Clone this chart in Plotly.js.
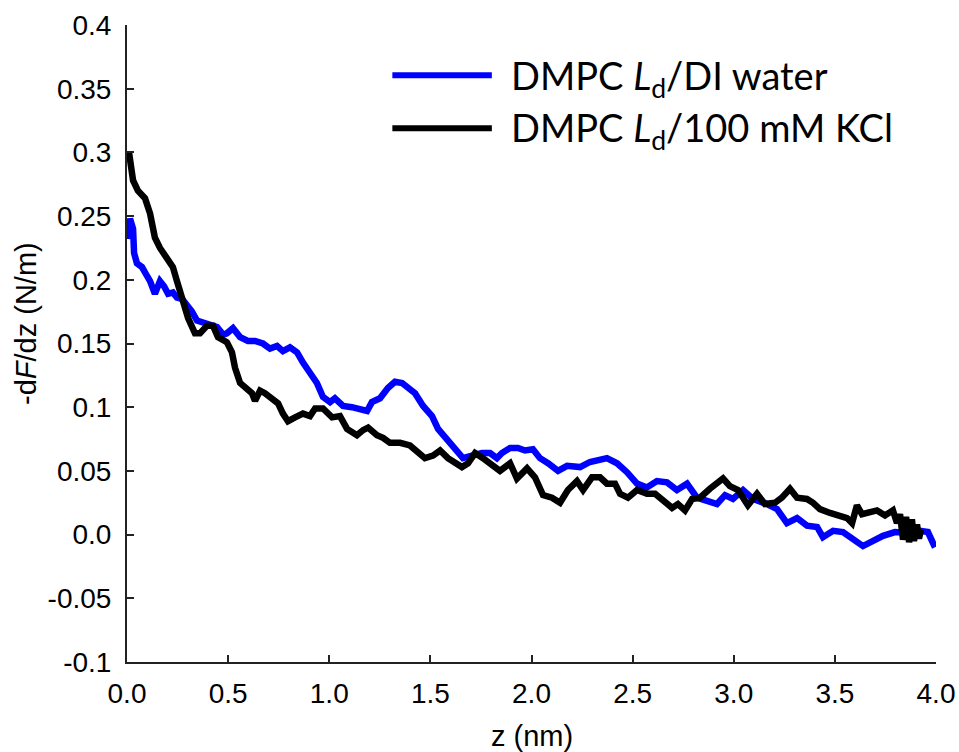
<!DOCTYPE html>
<html>
<head>
<meta charset="utf-8">
<script src="https://cdn.plot.ly/plotly-3.0.1.min.js"></script>
<style>
  html, body { margin: 0; padding: 0; background: #fff; }
  #chart { width: 959px; height: 752px; }
</style>
</head>
<body>
<div id="chart"></div>
<script>
// ---- data ----
const waterZ = [0.005,0.015,0.030,0.035,0.049,0.074,0.099,0.114,0.138,0.163,0.183,0.203,0.227,0.247,0.272,0.297,0.321,0.346,0.371,0.396,0.420,0.445,0.475,0.494,0.524,0.559,0.598,0.633,0.672,0.707,0.742,0.771,0.806,0.841,0.870,0.905,0.939,0.969,1.004,1.028,1.068,1.112,1.152,1.187,1.211,1.251,1.290,1.325,1.360,1.389,1.424,1.464,1.508,1.538,1.582,1.622,1.661,1.706,1.755,1.795,1.829,1.854,1.894,1.933,1.968,2.007,2.042,2.082,2.131,2.176,2.240,2.289,2.339,2.373,2.423,2.472,2.522,2.571,2.620,2.670,2.719,2.769,2.818,2.868,2.917,2.957,2.996,3.046,3.095,3.164,3.214,3.263,3.313,3.362,3.412,3.441,3.491,3.540,3.590,3.639,3.689,3.738,3.797,3.847,3.886,3.921,3.960,3.995];
const waterF = [0.232,0.248,0.240,0.221,0.213,0.210,0.203,0.199,0.189,0.199,0.195,0.189,0.190,0.186,0.185,0.180,0.175,0.168,0.167,0.166,0.165,0.163,0.157,0.158,0.162,0.155,0.152,0.152,0.150,0.146,0.148,0.144,0.147,0.143,0.135,0.126,0.119,0.108,0.104,0.107,0.101,0.100,0.099,0.097,0.104,0.107,0.115,0.120,0.119,0.115,0.111,0.101,0.093,0.083,0.075,0.068,0.060,0.062,0.064,0.064,0.060,0.064,0.068,0.068,0.066,0.067,0.060,0.056,0.050,0.054,0.053,0.057,0.059,0.060,0.056,0.049,0.040,0.037,0.042,0.041,0.035,0.040,0.029,0.026,0.024,0.031,0.028,0.035,0.028,0.024,0.020,0.009,0.013,0.007,0.006,-0.002,0.003,0.002,-0.003,-0.009,-0.005,-0.001,0.002,0.002,0.001,0.003,0.002,-0.010];

const kclZ = [0.010,0.020,0.030,0.054,0.089,0.114,0.138,0.163,0.198,0.227,0.247,0.272,0.302,0.336,0.361,0.396,0.425,0.450,0.470,0.494,0.519,0.534,0.559,0.583,0.618,0.633,0.658,0.682,0.717,0.747,0.771,0.796,0.831,0.870,0.905,0.930,0.954,0.969,1.014,1.053,1.088,1.137,1.167,1.192,1.236,1.266,1.300,1.350,1.399,1.434,1.473,1.513,1.548,1.587,1.622,1.656,1.686,1.721,1.760,1.805,1.844,1.894,1.928,1.978,2.017,2.057,2.101,2.141,2.180,2.225,2.255,2.299,2.339,2.373,2.413,2.438,2.477,2.522,2.571,2.611,2.650,2.695,2.724,2.759,2.794,2.833,2.882,2.917,2.947,2.981,3.021,3.070,3.115,3.154,3.204,3.238,3.278,3.313,3.362,3.392,3.426,3.476,3.511,3.560,3.585,3.609,3.634,3.674,3.708,3.748,3.787,3.807,3.822,3.837,3.852,3.867,3.881,3.891,3.906,3.916,3.926];
const kclF = [0.300,0.285,0.278,0.270,0.264,0.252,0.233,0.225,0.217,0.210,0.199,0.184,0.170,0.158,0.158,0.164,0.164,0.155,0.153,0.151,0.143,0.131,0.119,0.115,0.111,0.105,0.113,0.111,0.107,0.103,0.095,0.089,0.092,0.095,0.093,0.099,0.099,0.099,0.092,0.093,0.083,0.078,0.082,0.084,0.078,0.076,0.072,0.072,0.070,0.066,0.060,0.062,0.066,0.060,0.057,0.053,0.056,0.064,0.060,0.054,0.050,0.056,0.044,0.052,0.045,0.031,0.029,0.025,0.035,0.042,0.035,0.045,0.045,0.040,0.040,0.032,0.029,0.035,0.032,0.032,0.027,0.021,0.024,0.019,0.028,0.029,0.036,0.040,0.044,0.038,0.035,0.023,0.032,0.024,0.025,0.029,0.036,0.029,0.028,0.025,0.020,0.017,0.015,0.013,0.009,0.023,0.016,0.017,0.019,0.015,0.019,0.009,0.016,-0.004,0.014,-0.006,0.012,-0.005,0.008,-0.003,0.004];

const seriesNames = ['DMPC&nbsp;<i>L</i><sub>d</sub>/DI water', 'DMPC&nbsp;<i>L</i><sub>d</sub>/100 mM KCl'];
const seriesColors = ['#0000ff', '#000000'];

const yTickVals = [-0.1,-0.05,0,0.05,0.1,0.15,0.2,0.25,0.3,0.35,0.4];
const yTickText = ['-0.1','-0.05','0.0','0.05','0.1','0.15','0.2','0.25','0.3','0.35','0.4'];
const xTickVals = [0,0.5,1,1.5,2,2.5,3,3.5,4];
const xTickText = ['0.0','0.5','1.0','1.5','2.0','2.5','3.0','3.5','4.0'];
const xTitle = 'z (nm)';
const yTitle = '-d<i>F</i>/dz (N/m)';

// ---- chart ----
const traces = [
  {x: waterZ, y: waterF, type: 'scatter', mode: 'lines', name: seriesNames[0],
   line: {color: seriesColors[0], width: 6.5}, showlegend: false},
  {x: kclZ, y: kclF, type: 'scatter', mode: 'lines', name: seriesNames[1],
   line: {color: seriesColors[1], width: 6.5}, showlegend: false}
];

const tickFont = {family: 'Liberation Sans, Arial, sans-serif', size: 28, color: '#000'};
const titleFont = {family: 'Liberation Sans, Arial, sans-serif', size: 29, color: '#000'};
const legFont = {family: 'Lato, Calibri, sans-serif', size: 38, color: '#000'};

const legY = [0.921, 0.838];
const legTextY = [0.917, 0.835];
const shapes = [], annotations = [];
for (let i = 0; i < 2; i++) {
  shapes.push({type: 'line', xref: 'paper', yref: 'paper', x0: 0.328, x1: 0.451,
    y0: legY[i], y1: legY[i], line: {color: seriesColors[i], width: 6}});
  annotations.push({xref: 'paper', yref: 'paper', x: 0.472, y: legTextY[i],
    xanchor: 'left', yanchor: 'middle', text: seriesNames[i], showarrow: false, font: legFont});
}
annotations.push({xref: 'paper', yref: 'paper', x: 0.5, y: -0.1165, xanchor: 'center', yanchor: 'middle',
  text: xTitle, showarrow: false, font: titleFont});
annotations.push({xref: 'paper', yref: 'paper', x: -0.125, y: 0.532, xanchor: 'center', yanchor: 'middle',
  text: yTitle, textangle: -90, showarrow: false, font: titleFont});

const layout = {
  width: 959, height: 752,
  margin: {l: 127, r: 23, t: 25, b: 90, pad: 0},
  paper_bgcolor: '#fff', plot_bgcolor: '#fff',
  showlegend: false,
  xaxis: {
    range: [0, 4], tickvals: xTickVals, ticktext: xTickText,
    ticks: 'inside', ticklen: 7, tickwidth: 2, tickcolor: '#222',
    showline: true, linecolor: '#222', linewidth: 2, mirror: false,
    showgrid: false, zeroline: false, tickfont: tickFont, ticklabelstandoff: 5
  },
  yaxis: {
    range: [-0.1, 0.4], tickvals: yTickVals, ticktext: yTickText,
    ticks: 'inside', ticklen: 7, tickwidth: 2, tickcolor: '#222',
    showline: true, linecolor: '#222', linewidth: 2, mirror: false,
    showgrid: false, zeroline: false, tickfont: tickFont, ticklabelstandoff: 8
  },
  shapes: shapes,
  annotations: annotations
};

Plotly.newPlot('chart', traces, layout, {displayModeBar: false, staticPlot: true});
</script>
</body>
</html>
